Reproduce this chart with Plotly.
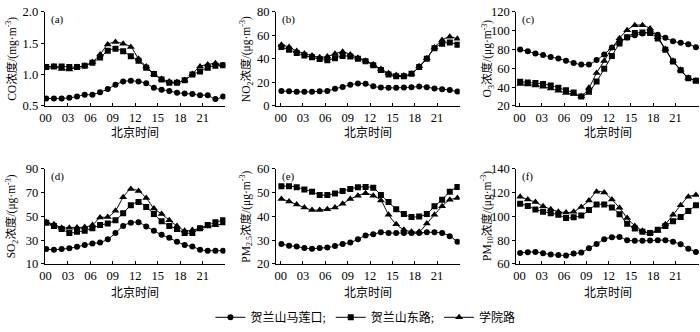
import plotly.graph_objects as go

hours = list(range(24))
x_tick_labels = ["00", "03", "06", "09", "12", "15", "18", "21"]
series_names = ["贺兰山马莲口;", "贺兰山东路;", "学院路"]
x_title = "北京时间"

# (a) CO, mg/m3
co_mlk = [0.62, 0.62, 0.62, 0.63, 0.65, 0.68, 0.68, 0.72, 0.77, 0.84, 0.89, 0.90,
          0.89, 0.86, 0.79, 0.76, 0.74, 0.71, 0.70, 0.69, 0.67, 0.67, 0.61, 0.65]
co_dls = [1.12, 1.13, 1.13, 1.12, 1.12, 1.14, 1.19, 1.27, 1.38, 1.41, 1.37, 1.29,
          1.22, 1.11, 1.01, 0.92, 0.87, 0.87, 0.91, 1.00, 1.05, 1.11, 1.14, 1.15]
co_xyl = [1.12, 1.13, 1.09, 1.08, 1.12, 1.14, 1.20, 1.32, 1.48, 1.52, 1.49, 1.44,
          1.25, 1.13, 1.01, 0.93, 0.89, 0.88, 0.91, 1.01, 1.13, 1.16, 1.18, 1.15]

# (b) NO2, ug/m3
no2_mlk = [12.7, 12.5, 12.0, 12.0, 12.0, 12.5, 12.8, 14.6, 16.2, 18.0, 19.0, 18.8,
           16.7, 15.7, 15.4, 15.4, 15.7, 16.0, 16.5, 16.0, 14.9, 14.3, 13.5, 12.2]
no2_dls = [50.0, 47.8, 45.0, 42.8, 41.4, 39.8, 38.8, 40.6, 42.5, 42.0, 40.0, 38.0,
           34.5, 30.5, 26.8, 25.2, 25.2, 27.4, 33.2, 40.0, 49.0, 52.9, 54.0, 52.0]
no2_xyl = [52.0, 50.0, 46.7, 44.6, 42.8, 41.4, 42.0, 44.4, 46.0, 43.8, 41.0, 38.5,
           35.3, 31.3, 27.9, 26.3, 25.8, 27.4, 33.7, 40.6, 49.7, 56.0, 58.7, 57.0]

# (c) O3, ug/m3
o3_mlk = [80.0, 78.0, 75.7, 74.0, 72.0, 70.3, 68.0, 65.6, 64.0, 64.0, 68.7, 74.7,
          82.0, 88.0, 92.6, 95.0, 97.0, 97.6, 95.6, 92.3, 88.8, 87.0, 85.6, 82.4]
o3_dls = [45.8, 45.0, 44.4, 43.4, 41.7, 39.4, 36.6, 34.4, 30.0, 35.0, 46.0, 59.4,
          73.0, 86.2, 93.0, 97.4, 98.0, 97.4, 91.5, 79.7, 67.3, 58.0, 49.5, 46.8]
o3_xyl = [43.4, 42.8, 41.8, 40.4, 38.5, 36.2, 33.8, 32.8, 30.4, 39.4, 55.0, 67.8,
          81.4, 92.0, 100.5, 105.6, 105.6, 102.2, 93.0, 80.5, 68.0, 58.5, 50.0, 47.0]

# (d) SO2, ug/m3
so2_mlk = [22.5, 22.0, 22.5, 23.3, 24.4, 26.0, 27.3, 28.0, 30.8, 36.0, 42.0, 44.7,
           45.0, 41.5, 38.0, 34.5, 32.0, 28.7, 26.0, 24.7, 22.0, 21.2, 21.2, 21.2]
so2_dls = [44.7, 42.0, 39.5, 36.0, 37.0, 38.0, 40.0, 42.7, 44.0, 46.8, 52.7, 59.3,
           62.0, 58.0, 52.0, 46.0, 42.0, 39.5, 36.0, 36.0, 40.0, 42.7, 45.0, 46.8]
so2_xyl = [45.2, 43.3, 40.5, 40.5, 40.7, 41.0, 42.7, 49.0, 49.5, 54.8, 66.0, 73.0,
           71.3, 65.5, 56.7, 52.0, 46.8, 42.0, 38.0, 38.5, 40.0, 41.5, 42.5, 44.0]

# (e) PM2.5, ug/m3
pm25_mlk = [28.4, 27.7, 27.3, 26.7, 26.4, 26.7, 26.9, 27.6, 28.4, 29.0, 30.4, 32.0,
            32.5, 33.3, 33.0, 33.0, 33.0, 33.0, 33.0, 33.3, 33.3, 33.0, 31.7, 29.3]
pm25_dls = [52.7, 52.7, 52.3, 51.3, 50.4, 49.0, 49.0, 49.6, 50.7, 51.5, 52.3, 52.4,
            52.0, 49.0, 46.0, 43.0, 41.0, 39.7, 40.0, 41.0, 44.3, 47.0, 50.4, 52.4]
pm25_xyl = [47.3, 46.3, 45.0, 43.7, 42.7, 42.7, 43.0, 43.7, 45.3, 47.3, 48.7, 49.7,
            48.7, 46.7, 40.7, 36.7, 34.4, 33.6, 33.6, 37.0, 40.7, 44.3, 47.0, 47.7]

# (f) PM10, ug/m3
pm10_mlk = [69.3, 69.9, 70.1, 69.0, 68.0, 67.5, 67.2, 68.8, 69.6, 73.3, 76.8, 80.8,
            82.4, 82.7, 80.0, 79.5, 79.5, 79.7, 80.0, 80.0, 78.7, 76.5, 72.8, 70.1]
pm10_dls = [110.7, 108.8, 105.9, 104.0, 102.7, 101.3, 98.7, 99.2, 100.8, 105.3, 109.9, 109.9,
            107.5, 101.9, 93.9, 89.9, 87.2, 86.1, 88.8, 92.0, 96.0, 99.5, 104.5, 109.3]
pm10_xyl = [116.5, 114.1, 112.0, 108.5, 106.1, 104.0, 103.2, 104.0, 108.0, 113.3, 120.8, 120.0,
            114.1, 107.2, 98.7, 92.0, 88.0, 86.1, 88.0, 93.3, 101.3, 109.3, 116.5, 117.9]

panels = [
    dict(tag="(a)", title="CO浓度/(mg·m<sup>-3</sup>)", data=[co_mlk, co_dls, co_xyl],
         yr=[0.5, 2.0], dt=0.5, fmt=".1f", col=0, row=0),
    dict(tag="(b)", title="NO<sub>2</sub>浓度/(μg·m<sup>-3</sup>)", data=[no2_mlk, no2_dls, no2_xyl],
         yr=[0, 80], dt=20, fmt="d", col=1, row=0),
    dict(tag="(c)", title="O<sub>3</sub>浓度/(μg·m<sup>-3</sup>)", data=[o3_mlk, o3_dls, o3_xyl],
         yr=[20, 120], dt=20, fmt="d", col=2, row=0),
    dict(tag="(d)", title="SO<sub>2</sub>浓度/(μg·m<sup>-3</sup>)", data=[so2_mlk, so2_dls, so2_xyl],
         yr=[10, 90], dt=20, fmt="d", col=0, row=1),
    dict(tag="(e)", title="PM<sub>2.5</sub>浓度/(μg·m<sup>-3</sup>)", data=[pm25_mlk, pm25_dls, pm25_xyl],
         yr=[20, 60], dt=10, fmt="d", col=1, row=1),
    dict(tag="(f)", title="PM<sub>10</sub>浓度/(μg·m<sup>-3</sup>)", data=[pm10_mlk, pm10_dls, pm10_xyl],
         yr=[60, 140], dt=20, fmt="d", col=2, row=1),
]

W, H = 700, 332
col_px = [(40, 222), (273, 458), (515, 699)]
col_xr = [[-0.2, 23.3], [-0.7, 23.3], [-0.5, 23.4]]
col_title_x = [7, 243, 486]
row_px = [(5, 104), (170, 270)]
row_xtitle_y = [132, 301]

symbols = ["circle", "square", "triangle-up"]
msizes = [6, 6, 7]
SERIF = "Times New Roman, Liberation Serif, Noto Sans CJK SC, serif"
tick_pos = [-0.1 + 2.92 * k for k in range(len(x_tick_labels))]

fig = go.Figure()
annotations = []
for i, p in enumerate(panels):
    n = "" if i == 0 else str(i + 1)
    xa, ya = "x" + n, "y" + n
    for s in range(3):
        fig.add_trace(go.Scatter(
            x=hours, y=p["data"][s], xaxis=xa, yaxis=ya, mode="lines+markers",
            name=series_names[s], showlegend=(i == 0),
            line=dict(color="black", width=1, shape="spline", smoothing=0.8),
            marker=dict(symbol=symbols[s], size=msizes[s], color="black"),
        ))
    x0, x1 = col_px[p["col"]]
    y0, y1 = row_px[p["row"]]
    fig.layout["xaxis" + n] = dict(
        domain=[x0 / W, x1 / W], anchor=ya, range=col_xr[p["col"]],
        tickmode="array", tickvals=tick_pos, ticktext=x_tick_labels,
        showline=True, linecolor="black", linewidth=1, showgrid=False, zeroline=False,
        ticks="inside", ticklen=3, tickcolor="black",
        tickfont=dict(family=SERIF, size=12.5, color="black"),
    )
    fig.layout["yaxis" + n] = dict(
        domain=[1 - y1 / H, 1 - y0 / H], anchor=xa, range=p["yr"], dtick=p["dt"],
        tick0=p["yr"][0], tickformat=p["fmt"],
        showline=True, linecolor="black", linewidth=1, showgrid=False, zeroline=False,
        ticks="outside", ticklen=3, tickcolor="black",
        tickfont=dict(family=SERIF, size=12.5, color="black"),
    )
    annotations.append(dict(
        text=p["tag"], xref="paper", yref="paper", x=(x0 + 4) / W, y=1 - (y0 - 1) / H,
        xanchor="left", yanchor="top", showarrow=False,
        font=dict(family=SERIF, size=11, color="black")))
    annotations.append(dict(
        text=p["title"], xref="paper", yref="paper", x=col_title_x[p["col"]] / W,
        y=1 - ((y0 + y1) / 2) / H, xanchor="center", yanchor="middle", textangle=-90,
        showarrow=False, font=dict(family=SERIF, size=11.5, color="black")))
    annotations.append(dict(
        text=x_title, xref="paper", yref="paper", x=((x0 + x1) / 2) / W,
        y=1 - row_xtitle_y[p["row"]] / H, xanchor="center", yanchor="middle",
        showarrow=False, font=dict(family=SERIF, size=12, color="black")))

fig.update_layout(
    width=W, height=H, margin=dict(l=0, r=0, t=0, b=0),
    paper_bgcolor="white", plot_bgcolor="white",
    annotations=annotations,
    legend=dict(orientation="h", x=363 / W, y=1 - 326 / H, xanchor="center", yanchor="middle",
                itemwidth=30, font=dict(family=SERIF, size=12, color="black"),
                bgcolor="rgba(0,0,0,0)", tracegroupgap=0),
)
fig.write_html("out.html")
